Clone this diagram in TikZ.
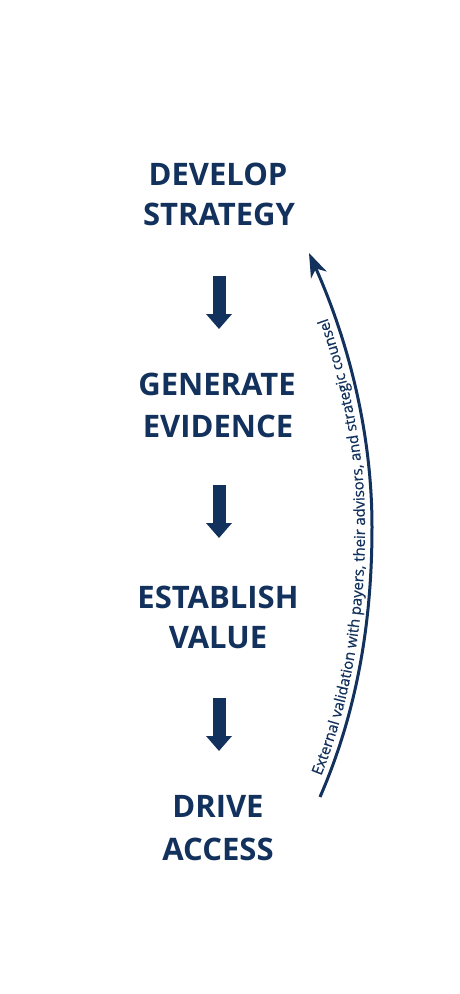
\documentclass[tikz,border=0pt]{standalone}
\usepackage{fontspec}
\setmainfont{Open Sans}
\newfontfamily\curvefont{Open Sans}[FakeBold=0.6]
\usetikzlibrary{arrows.meta,decorations.text}
\definecolor{navy}{RGB}{18,49,92}
\tikzset{
  steplabel/.style={anchor=base, text=navy, inner sep=0pt,
    font=\fontsize{31}{42}\selectfont\bfseries},
  blockarrow/.style={draw=navy, line width=13pt,
    -{Triangle[width=25pt,length=15pt]}},
  loopline/.style={draw=navy, line width=3pt,
    -{Stealth[length=24pt,width=17pt,inset=7pt]}},
}
\begin{document}
\begin{tikzpicture}[x=1pt,y=-1pt]
\useasboundingbox[fill=white] (0,0) rectangle (460,994);
% labels
\node[steplabel] (s1a) at (218,185) {DEVELOP};
\node[steplabel] (s1b) at (219,225) {STRATEGY};
\node[steplabel] (s2a) at (217,395) {GENERATE};
\node[steplabel] (s2b) at (218,437) {EVIDENCE};
\node[steplabel] (s3a) at (218,608) {ESTABLISH};
\node[steplabel] (s3b) at (218,648) {VALUE};
\node[steplabel] (s4a) at (218,817) {DRIVE};
\node[steplabel] (s4b) at (218,860) {ACCESS};
% block arrows
\coordinate (a1s) at (219,276); \coordinate (a1e) at (219,329);
\coordinate (a2s) at (219,485); \coordinate (a2e) at (219,538);
\coordinate (a3s) at (219,698); \coordinate (a3e) at (219,751);
\draw[blockarrow] (a1s) -- (a1e);
\draw[blockarrow] (a2s) -- (a2e);
\draw[blockarrow] (a3s) -- (a3e);
% feedback curve
\coordinate (cs) at (320,797);
\coordinate (cm) at (372,527);
\coordinate (ce) at (309,253);
\draw[loopline] (cs) .. controls (357.5,710.8) and (372,621) .. (cm)
  .. controls (372,433) and (348.3,340.8) .. (ce);
\path[decorate, decoration={text along path, raise=7pt,
    text align={left indent=20pt}, text color=navy,
    text={|\curvefont\fontsize{15}{17}\selectfont|External validation with payers, their advisors, and strategic counsel}}]
  (cs) .. controls (357.5,710.8) and (372,621) .. (cm)
  .. controls (372,433) and (348.3,340.8) .. (ce);
\end{tikzpicture}
\end{document}
